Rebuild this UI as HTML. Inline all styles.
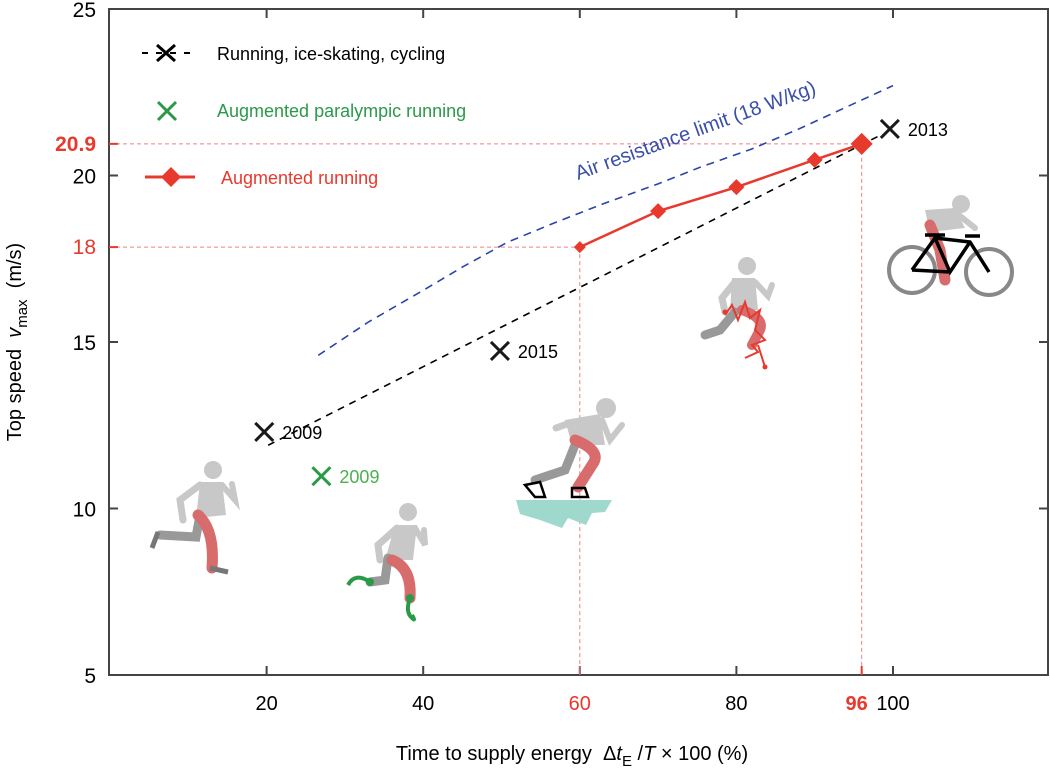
<!DOCTYPE html>
<html><head><meta charset="utf-8">
<style>
html,body{margin:0;padding:0;background:#fff;}
svg{display:block;font-family:"Liberation Sans",Arial,sans-serif;}
</style></head>
<body>
<svg id="chart" width="1050" height="770" viewBox="0 0 1050 770">
  <g id="guides"></g>
  <g id="pics">
    <g>
      <circle cx="213" cy="470" r="9" fill="#c8c8c8"/>
      <path d="M200 482 L222 482 L226 515 L196 518 Z" fill="#c8c8c8"/>
      <path d="M200 485 L180 500 L183 520" stroke="#c8c8c8" stroke-width="7" fill="none" stroke-linecap="round"/>
      <path d="M222 485 L235 500 L232 484" stroke="#c8c8c8" stroke-width="6" fill="none" stroke-linecap="round"/>
      <path d="M200 515 L196 537 L160 535" stroke="#999" stroke-width="9" fill="none" stroke-linecap="round"/>
      <path d="M158 532 L152 548" stroke="#777" stroke-width="5"/>
      <path d="M198 515 Q215 530 212 568" stroke="#d86b6b" stroke-width="11" fill="none" stroke-linecap="round"/>
      <path d="M210 568 L228 572" stroke="#777" stroke-width="5"/>
    </g>
    <g>
      <circle cx="408" cy="512" r="9" fill="#c8c8c8"/>
      <path d="M395 525 L417 525 L413 560 L385 560 Z" fill="#c8c8c8"/>
      <path d="M397 528 L378 545 L380 560" stroke="#c8c8c8" stroke-width="7" fill="none" stroke-linecap="round"/>
      <path d="M415 528 L425 545 L424 530" stroke="#c8c8c8" stroke-width="6" fill="none" stroke-linecap="round"/>
      <path d="M388 558 L385 580 L370 582" stroke="#999" stroke-width="9" fill="none" stroke-linecap="round"/>
      <path d="M370 582 Q355 572 348 585" stroke="#2a9a48" stroke-width="4" fill="none"/>
      <circle cx="370" cy="582" r="4" fill="#2a9a48"/>
      <path d="M392 560 Q412 568 410 598" stroke="#d86b6b" stroke-width="11" fill="none" stroke-linecap="round"/>
      <path d="M410 598 Q405 612 412 618 Q416 622 412 615" stroke="#2a9a48" stroke-width="4" fill="none"/>
      <circle cx="410" cy="598" r="4" fill="#2a9a48"/>
    </g>
    <g>
      <circle cx="606" cy="408" r="10" fill="#c8c8c8"/>
      <path d="M565 420 L600 414 L605 445 L572 445 Z" fill="#c8c8c8"/>
      <path d="M570 423 L556 428" stroke="#c8c8c8" stroke-width="7" stroke-linecap="round"/>
      <path d="M602 420 L610 440 L622 425" stroke="#c8c8c8" stroke-width="6" fill="none" stroke-linecap="round"/>
      <path d="M575 445 L565 470 L535 480" stroke="#999" stroke-width="9" fill="none" stroke-linecap="round"/>
      <path d="M575 440 Q600 450 594 462 L578 487" stroke="#d86b6b" stroke-width="11" fill="none" stroke-linecap="round"/>
      <path d="M525 485 L540 482 L545 497 L535 497 Z" fill="none" stroke="#000" stroke-width="2.5"/>
      <path d="M572 488 L585 488 L588 497 L572 497 Z" fill="none" stroke="#000" stroke-width="2.5"/>
      <path d="M516 500 L612 500 L605 512 L592 513 L586 525 L568 518 L562 528 L540 520 L520 514 Z" fill="#9fd8cc"/>
    </g>
    <g>
      <circle cx="747" cy="266" r="9" fill="#c8c8c8"/>
      <path d="M732 278 L755 278 L758 310 L730 312 Z" fill="#c8c8c8"/>
      <path d="M735 282 L722 298 L725 312" stroke="#c8c8c8" stroke-width="7" fill="none" stroke-linecap="round"/>
      <path d="M755 282 L768 296 L772 285" stroke="#c8c8c8" stroke-width="6" fill="none" stroke-linecap="round"/>
      <path d="M735 312 L720 330 L705 335" stroke="#999" stroke-width="9" fill="none" stroke-linecap="round"/>
      <path d="M742 310 Q765 318 760 330 L752 345" stroke="#d86b6b" stroke-width="10" fill="none" stroke-linecap="round"/>
      <path d="M725 315 L732 305 L738 320 L745 302 L750 318 L760 310 L755 330 L765 340 L752 345 L758 352 L745 358" stroke="#e8392d" stroke-width="2" fill="none"/>
      <path d="M758 345 L765 367" stroke="#e8392d" stroke-width="2"/>
      <circle cx="765" cy="367" r="2.5" fill="#e8392d"/>
      <circle cx="725" cy="312" r="2.5" fill="#e8392d"/>
    </g>
    <g>
      <circle cx="912" cy="270" r="23" fill="none" stroke="#888" stroke-width="4"/>
      <circle cx="989" cy="272" r="23" fill="none" stroke="#888" stroke-width="4"/>
      <circle cx="961" cy="204" r="9" fill="#c8c8c8"/>
      <path d="M925 210 L955 208 L965 228 L930 232 Z" fill="#c8c8c8"/>
      <path d="M955 212 L975 228" stroke="#c8c8c8" stroke-width="6" stroke-linecap="round"/>
      <path d="M930 225 L940 250 L945 280" stroke="#d86b6b" stroke-width="11" fill="none" stroke-linecap="round"/>
      <path d="M912 270 L935 238 L970 242 L989 272 M935 238 L950 272 L970 242 M950 272 L912 270 M925 235 L945 235 M965 236 L980 236" stroke="#000" stroke-width="3.5" fill="none"/>
    </g>
  </g>
  <g id="plot"></g>
  <g id="axes"></g>
  <g id="legend">
    <g>
      <line x1="142" y1="53" x2="190" y2="53" stroke="#000" stroke-width="2" stroke-dasharray="6,8"/>
      <path d="M157 45 L175 61 M175 45 L157 61" stroke="#000" stroke-width="3"/>
      <text x="217" y="60" font-size="18" fill="#000">Running, ice-skating, cycling</text>
    </g>
    <g>
      <path d="M158 102 L176 120 M176 102 L158 120" stroke="#2a9a48" stroke-width="3"/>
      <text x="217" y="117" font-size="18" fill="#2a9a48">Augmented paralympic running</text>
    </g>
    <g>
      <line x1="145" y1="177" x2="195" y2="177" stroke="#e8392d" stroke-width="3"/>
      <path d="M171 167 L181 177 L171 187 L161 177 Z" fill="#e8392d"/>
      <text x="221" y="184" font-size="18" fill="#e8392d">Augmented running</text>
    </g>
  </g>
</svg>
<script>
const xTicks=[20,40,60,80,100];
const yTicks=[5,10,15,20,25];
const augX=[60,70,80,90,96];
const augY=[17.85,18.93,19.65,20.47,20.95];
const blackX=[19.7,49.8,99.6];
const blackY=[12.3,14.73,21.4];
const blackLabels=["2009","2015","2013"];
const greenX=[27];
const greenY=[10.97];
const greenLabels=["2009"];
const trendX=[20.2,98.3];
const trendY=[11.9,21.2];
const airX=[26.6,33,40,45,50.8,57,63,70,75.4,82,88,94,100];
const airY=[14.6,15.6,16.55,17.25,18.0,18.6,19.15,19.75,20.25,20.8,21.4,22.05,22.7];

const NS="http://www.w3.org/2000/svg";
const L=109,R=1048,T=9,B=675;
const sx=v=>110+v*7.83;
const sy=v=>B-(v-5)*(B-T)/20;
function mk(p,tag,a){const e=document.createElementNS(NS,tag);for(const k in a)e.setAttribute(k,a[k]);p.appendChild(e);return e;}
const plot=document.getElementById('plot'),axes=document.getElementById('axes'),guides=document.getElementById('guides');

let g1=mk(guides,'line',{x1:L,x2:sx(96),y1:sy(augY[4]),y2:sy(augY[4]),stroke:'#f08080','stroke-width':1,'stroke-dasharray':'4,3'});

let g2=mk(guides,'line',{x1:L,x2:sx(60),y1:sy(augY[0]),y2:sy(augY[0]),stroke:'#f08080','stroke-width':1,'stroke-dasharray':'4,3'});

let g3=mk(guides,'line',{x1:sx(60),x2:sx(60),y1:sy(augY[0]),y2:B,stroke:'#f08080','stroke-width':1,'stroke-dasharray':'4,3'});

let g4=mk(guides,'line',{x1:sx(96),x2:sx(96),y1:sy(augY[4]),y2:B,stroke:'#f08080','stroke-width':1,'stroke-dasharray':'4,3'});


let ap=airX.map((x,i)=>sx(x)+','+sy(airY[i])).join(' ');
let air=mk(plot,'polyline',{points:ap,fill:'none',stroke:'#2b44a8','stroke-width':1.6,'stroke-dasharray':'8,6'});

let at=mk(plot,'text',{x:0,y:0,'font-size':20,fill:'#3a4fa8',transform:`translate(578,180) rotate(-20)`});
at.textContent='Air resistance limit (18 W/kg)';


let tl=mk(plot,'line',{x1:sx(trendX[0]),y1:sy(trendY[0]),x2:sx(trendX[1]),y2:sy(trendY[1]),stroke:'#000','stroke-width':1.6,'stroke-dasharray':'7,6'});


let aug=mk(plot,'polyline',{points:augX.map((x,i)=>sx(x)+','+sy(augY[i])).join(' '),fill:'none',stroke:'#e8392d','stroke-width':2.5});

augX.forEach((x,i)=>{const r=i==0?6:(i==4?11:8);const cx=sx(x),cy=sy(augY[i]);
 const d=mk(plot,'path',{d:`M${cx} ${cy-r} L${cx+r} ${cy} L${cx} ${cy+r} L${cx-r} ${cy} Z`,fill:'#e8392d'});
 });

function cross(x,y,c,lab,name,lc){const cx=sx(x),cy=sy(y),r=9;
 const p=mk(plot,'path',{d:`M${cx-r} ${cy-r} L${cx+r} ${cy+r} M${cx+r} ${cy-r} L${cx-r} ${cy+r}`,stroke:c,'stroke-width':3});
 
 const t=mk(plot,'text',{x:cx+18,y:cy+7,'font-size':18,fill:lc});t.textContent=lab;
 }
blackX.forEach((x,i)=>cross(x,blackY[i],'#1a1a1a',blackLabels[i],'record-point','#000'));
greenX.forEach((x,i)=>cross(x,greenY[i],'#2a9a48',greenLabels[i],'paralympic-point','#4cb050'));

let fr=mk(axes,'rect',{x:L,y:T,width:R-L,height:B-T,fill:'none',stroke:'#444','stroke-width':2});

xTicks.forEach(v=>{const x=sx(v);
 mk(axes,'line',{x1:x,x2:x,y1:B,y2:B-9,stroke:'#444','stroke-width':2});
 mk(axes,'line',{x1:x,x2:x,y1:T,y2:T+9,stroke:'#444','stroke-width':2});
 const t=mk(axes,'text',{x:x,y:B+35,'font-size':20,'text-anchor':'middle',fill:v==60?'#e8392d':'#000'});t.textContent=v;
 });
let t96=mk(axes,'text',{x:sx(96)-5,y:B+35,'font-size':20,'font-weight':'bold','text-anchor':'middle',fill:'#e8392d'});t96.textContent='96';

mk(axes,'line',{x1:sx(96),x2:sx(96),y1:B,y2:B-9,stroke:'#e8392d','stroke-width':2});
mk(axes,'line',{x1:sx(60),x2:sx(60),y1:B,y2:B-9,stroke:'#f08080','stroke-width':1});
yTicks.forEach(v=>{const y=sy(v);
 mk(axes,'line',{x1:L,x2:L+9,y1:y,y2:y,stroke:'#444','stroke-width':2});
 mk(axes,'line',{x1:R,x2:R-9,y1:y,y2:y,stroke:'#444','stroke-width':2});
 const t=mk(axes,'text',{x:L-13,y:y+8,'font-size':21,'text-anchor':'end',fill:'#000'});t.textContent=v;
 });
[[20.95,'20.9',true],[17.85,'18',false]].forEach(([v,l,b])=>{const y=sy(v);
 mk(axes,'line',{x1:L,x2:L+9,y1:y,y2:y,stroke:'#e8392d','stroke-width':2});
 const t=mk(axes,'text',{x:L-13,y:y+7,'font-size':21,'text-anchor':'end',fill:'#e8392d','font-weight':b?'bold':'normal'});t.textContent=l;
 });

let xt=mk(axes,'text',{x:572,y:760,'font-size':20,'text-anchor':'middle',fill:'#000'});
xt.innerHTML='Time to supply energy &#160;&#916;<tspan font-style="italic">t</tspan><tspan font-size="15" dy="6">E</tspan><tspan dy="-6"> /</tspan><tspan font-style="italic">T</tspan> &#215; 100 (%)';

let yt=mk(axes,'text',{x:0,y:0,'font-size':20,'text-anchor':'middle',fill:'#000',transform:'translate(21,342) rotate(-90)'});
yt.innerHTML='Top speed &#160;<tspan font-style="italic">v</tspan><tspan font-size="15" dy="6">max</tspan><tspan dy="-6"> &#160;(m/s)</tspan>';

</script>
</body></html>
